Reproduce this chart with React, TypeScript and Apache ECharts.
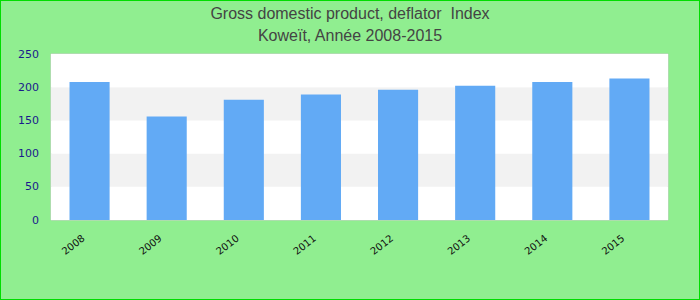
import React, { useEffect, useRef } from "react";
import * as echarts from "echarts";

const categories = ["2008", "2009", "2010", "2011", "2012", "2013", "2014", "2015"];
const values = [208, 156, 181, 189, 196, 202, 208, 213];
const titleLines = ["Gross domestic product, deflator  Index", "Koweït, Année 2008-2015"];

export default function App() {
  const ref = useRef<HTMLDivElement>(null);
  useEffect(() => {
    if (!ref.current) return;
    const chart = echarts.init(ref.current, null, { renderer: "svg" });
    chart.setOption({
      animation: false,
      backgroundColor: "#90ee90",
      title: {
        text: titleLines.join("\n"),
        left: "center",
        top: -4,
        textStyle: {
          fontFamily: "Liberation Sans, Arial",
          fontSize: 16,
          fontWeight: "normal",
          color: "#444",
          lineHeight: 22,
        },
      },
      grid: { left: 50, right: 31, top: 53, bottom: 79, show: true, borderColor: "#ccc", borderWidth: 1, backgroundColor: "#fff" },
      xAxis: {
        type: "category",
        data: categories,
        axisLine: { show: false },
        axisTick: { show: false },
        axisLabel: { rotate: 38, fontSize: 10, color: "#111", fontFamily: "DejaVu Sans", margin: 12, padding: [0, 8, 0, 0] },
      },
      yAxis: {
        type: "value",
        min: 0,
        max: 250,
        interval: 50,
        axisLine: { show: false },
        axisTick: { show: false },
        splitLine: { show: false },
        splitArea: { show: true, areaStyle: { color: ["#fff", "#f2f2f2"] } },
        axisLabel: { fontSize: 11, color: "#1a1a8c", fontFamily: "DejaVu Sans", margin: 12 },
      },
      series: [
        {
          type: "bar",
          data: values,
          barWidth: "52%",
          itemStyle: { color: "#62aaf5" },
        },
      ],
    });
    return () => chart.dispose();
  }, []);
  return (
    <div
      ref={ref}
      style={{ position: "absolute", left: 0, top: 0, width: 700, height: 300, boxSizing: "border-box", border: "1px solid #00dd00" }}
    />
  );
}
